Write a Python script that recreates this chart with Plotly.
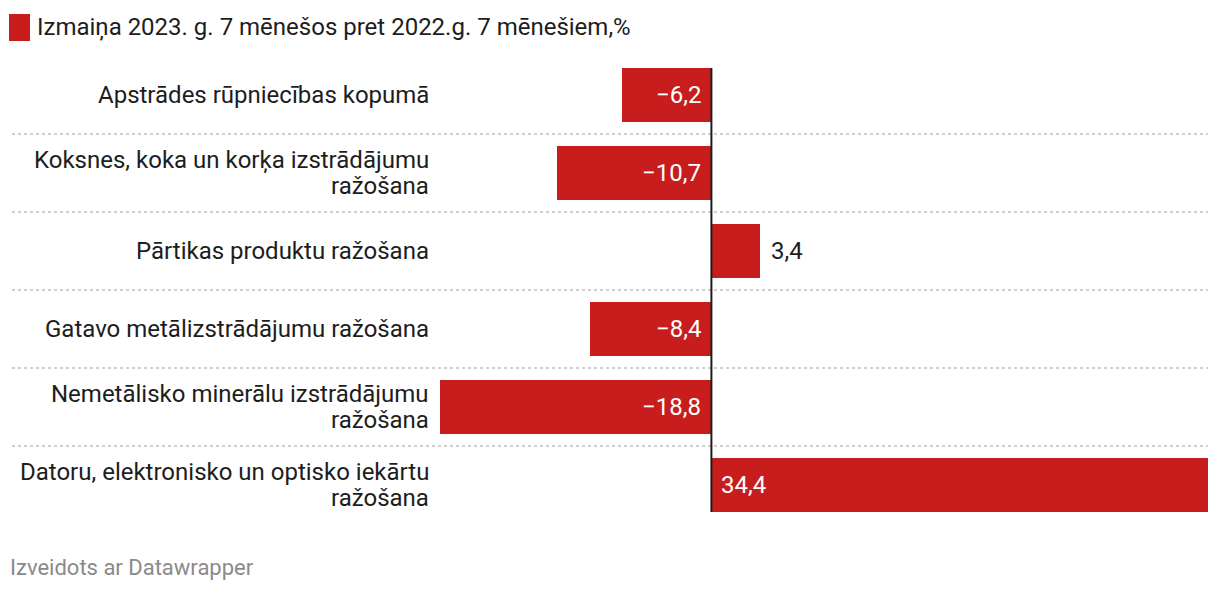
import plotly.graph_objects as go

categories = [
    "Apstrādes rūpniecības kopumā",
    "Koksnes, koka un korķa izstrādājumu<br>ražošana",
    "Pārtikas produktu ražošana",
    "Gatavo metālizstrādājumu ražošana",
    "Nemetālisko minerālu izstrādājumu<br>ražošana",
    "Datoru, elektronisko un optisko iekārtu<br>ražošana",
]
values = [-6.2, -10.7, 3.4, -8.4, -18.8, 34.4]
series_name = "Izmaiņa 2023. g. 7 mēnešos pret 2022.g. 7 mēnešiem,%"
source = "Izveidots ar Datawrapper"

RED = "#c71e1d"
TEXT = "#1d1d1d"
FONT = "Roboto"

OFF = 8  # page body margin
W, H = 1220 - 2 * OFF, 590 - 2 * OFF
# plot area in page pixels: x 440..1208, y 56..524
L, R = 440 - OFF, (1220 - OFF) - 1208
T, B = 56 - OFF, (590 - OFF) - 524
pw = W - L - R
ph = H - T - B
LINE_H = 26.5

def px_to_paper_x(px):
    return (px - OFF - L) / pw

def py_to_paper_y(py):
    return 1 - (py - OFF - T) / ph

def fmt(v):
    s = f"{abs(v):.1f}".replace(".", ",")
    return ("−" + s) if v < 0 else s

idx = list(range(len(categories)))

fig = go.Figure()
fig.add_trace(go.Bar(
    x=values, y=idx, orientation="h",
    marker=dict(color=RED, line=dict(width=0)),
    width=0.69, hoverinfo="skip", showlegend=False,
))

annotations = []
xmin, xmax = min(values), max(values)
span = xmax - xmin
for i, (c, v) in enumerate(zip(categories, values)):
    lines = c.split("<br>")
    n = len(lines)
    for k, line in enumerate(lines):
        shift = ((n - 1) / 2 - k) * LINE_H
        annotations.append(dict(
            x=px_to_paper_x(431), xref="paper", y=i, yref="y", yshift=shift,
            text=line, showarrow=False, xanchor="right", yanchor="middle",
            align="right", font=dict(family=FONT, size=24, color=TEXT),
        ))
    bar_px = abs(v) / span * pw
    if bar_px > 70:
        annotations.append(dict(
            x=0, y=i, xref="x", yref="y", text=fmt(v), showarrow=False,
            xanchor="right" if v < 0 else "left", xshift=-8 if v < 0 else 8,
            yanchor="middle", font=dict(family=FONT, size=24, color="white"),
        ))
    else:
        annotations.append(dict(
            x=v, y=i, xref="x", yref="y", text=fmt(v), showarrow=False,
            xanchor="left" if v >= 0 else "right", xshift=9 if v >= 0 else -9,
            yanchor="middle", font=dict(family=FONT, size=24, color=TEXT),
        ))

annotations.append(dict(
    x=px_to_paper_x(35), xref="paper", y=py_to_paper_y(27), yref="paper",
    text=series_name, showarrow=False, xanchor="left", yanchor="middle",
    font=dict(family=FONT, size=24, color=TEXT),
))
annotations.append(dict(
    x=px_to_paper_x(8), xref="paper", y=py_to_paper_y(567), yref="paper",
    text=source, showarrow=False, xanchor="left", yanchor="middle",
    font=dict(family=FONT, size=22, color="#8a8a8a"),
))

shapes = []
shapes.append(dict(
    type="rect", xref="paper", yref="paper",
    x0=px_to_paper_x(9), x1=px_to_paper_x(30),
    y0=py_to_paper_y(14), y1=py_to_paper_y(41),
    fillcolor=RED, line=dict(width=0),
))
for i in range(len(categories) - 1):
    shapes.append(dict(
        type="line", xref="paper", yref="y",
        x0=px_to_paper_x(12), x1=1, y0=i + 0.5, y1=i + 0.5,
        line=dict(color="#cfcfcf", width=2, dash="dot"), layer="below",
    ))
shapes.append(dict(
    type="line", xref="x", yref="y", x0=0, x1=0,
    y0=-0.345, y1=len(categories) - 1 + 0.345,
    line=dict(color="#1d1d1d", width=2),
))

fig.update_layout(
    width=W, height=H,
    margin=dict(l=L, r=R, t=T, b=B),
    paper_bgcolor="white", plot_bgcolor="white",
    xaxis=dict(range=[xmin, xmax], visible=False, fixedrange=True),
    yaxis=dict(range=[len(categories) - 0.5, -0.5], visible=False, fixedrange=True),
    annotations=annotations, shapes=shapes,
    bargap=0, showlegend=False,
    font=dict(family=FONT),
)

fig.write_html("out.html", config={"displayModeBar": False})
